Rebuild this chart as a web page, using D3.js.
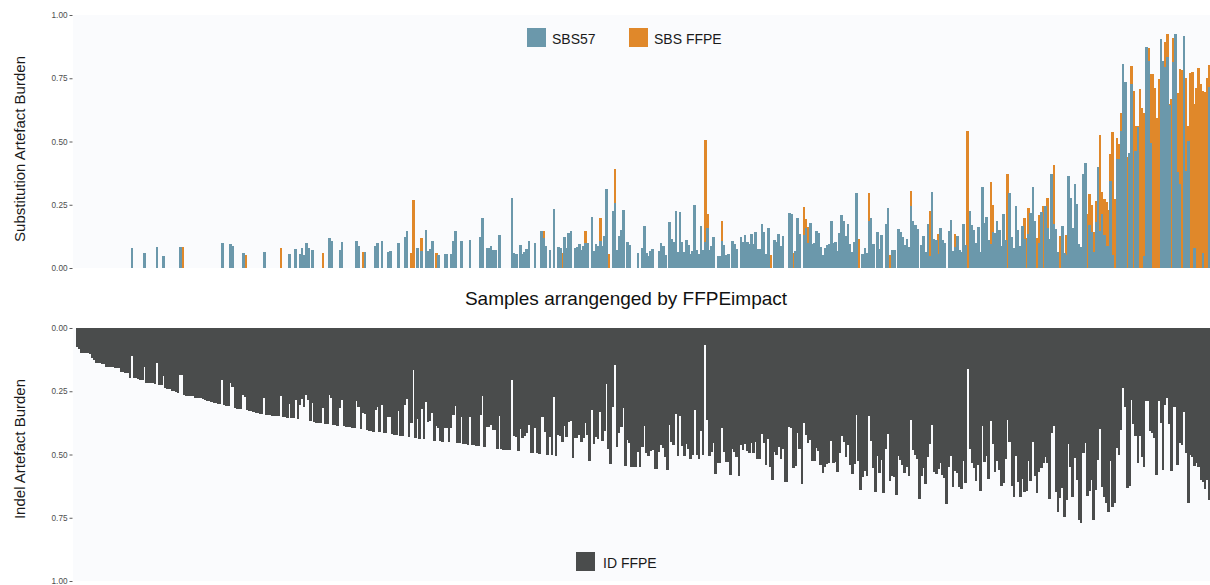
<!DOCTYPE html>
<html>
<head>
<meta charset="utf-8">
<script src="https://cdn.jsdelivr.net/npm/d3@7"></script>
<style>
  body { margin: 0; background: #fff; }
  svg { display: block; font-family: "Liberation Sans", Arial, sans-serif; }
</style>
</head>
<body>
<svg width="1210" height="585"></svg>
<script>
// one value per sample, samples ordered by FFPEimpact (left to right)
const sbs57 = [
  0,0,0,0,0,0,0,0,0,0,
  0,0,0,0,0,0,0,0,0,0,
  0,0,0,0,0,0,.078,0,0,0,
  0,0,.058,0,0,0,0,0,.082,0,
  0,.047,0,0,0,0,0,0,0,.082,
  0,0,0,0,0,0,0,0,0,0,
  0,0,0,0,0,0,0,0,0,.099,
  0,0,0,.094,.085,0,0,0,0,.059,
  0,0,0,0,0,0,0,0,0,.065,
  0,0,0,0,0,0,0,0,0,0,
  0,.055,0,0,.075,0,.055,.08,.052,.1,
  .08,0,.072,0,0,0,0,0,0,0,
  .118,.105,0,0,0,.072,.104,0,0,0,
  0,0,0,.108,.088,0,0,.065,0,0,
  0,0,.085,.1,0,.108,0,0,.065,.068,
  0,0,0,.097,0,0,.124,.148,0,0,
  0,0,.079,0,.066,0,.15,.069,.076,.107,
  0,0,.051,0,0,.055,.055,0,.055,.107,
  .146,0,0,.107,0,0,0,.11,0,0,
  0,0,.124,.198,0,.08,.08,.088,.071,.071,
  0,.13,0,0,0,0,0,.278,.058,.055,
  0,.091,.055,.065,.076,.108,0,0,.1,0,
  0,.146,.12,.088,0,.071,0,.233,0,.084,
  .08,0,.124,.08,.14,.146,0,.08,.084,.095,
  .071,.088,.097,.1,0,.2,.067,.095,.088,.107,
  .087,.126,.312,0,0,.225,.256,.071,.126,.15,
  .229,0,.103,.091,0,0,0,.058,0,.08,
  .166,.058,.047,.067,.075,0,0,.067,.097,.087,
  .051,0,.182,.115,.103,.225,.063,.221,.103,.063,
  .111,.092,.055,.069,.249,.071,.055,.166,.071,.103,
  .159,.071,.088,.124,0,.047,.047,.107,.092,.051,
  .055,0,.107,.095,.075,0,.124,.103,.13,.103,
  .095,.134,.095,.142,.075,.075,.174,.142,.055,.159,
  0,0,.111,.103,.134,.088,.126,0,0,.216,
  .213,0,.067,.198,.134,0,.13,.157,.097,.179,
  .095,.097,.148,.14,.083,.053,.08,.091,.095,.186,
  .1,.103,.067,.14,.21,.187,.126,.174,.095,.063,
  .103,.296,0,0,.055,.08,.059,.186,.198,.095,
  0,.142,.075,.13,0,.174,.237,0,.071,.071,
  0,.154,.142,.123,.091,.115,.083,.245,.186,.17,
  .154,0,.091,.126,.063,.174,.047,.3,.115,.111,
  .055,.158,.111,.099,0,.146,.19,.067,.083,.126,
  .071,.063,.174,.091,0,.225,.17,.15,.099,.162,
  .063,.32,.178,.2,.111,.095,.142,.138,.186,.15,
  .087,.213,.111,0,.296,.123,.079,.245,.15,.087,
  .166,.115,0,.134,.217,.321,.186,0,.099,.221,
  0,.245,.158,.115,.372,.174,.154,.063,0,.166,
  .059,.05,.364,.277,.158,.332,.253,.095,.083,.372,
  .415,0,.17,.142,.063,.182,.399,.146,.213,.13,
  .087,.087,.344,.05,0,.431,.431,.541,.806,.735,
  0,.455,.727,0,.462,.557,0,0,.047,.874,
  .818,.494,0,0,0,0,.905,.818,.794,.834,
  .645,0,.814,.925,.379,.332,0,.917,.383,.502,
  0,0,.079,0,0,0,.059,0,0,.715
];

const sbsFFPE = [
  0,0,0,0,0,0,0,0,0,0,
  0,0,0,0,0,0,0,0,0,0,
  0,0,0,0,0,0,0,0,0,0,
  0,0,0,0,0,0,0,0,0,0,
  0,0,0,0,0,0,0,0,0,0,
  .082,0,0,0,0,0,0,0,0,0,
  0,0,0,0,0,0,0,0,0,0,
  0,0,0,0,0,0,0,0,0,0,
  .05,0,0,0,0,0,0,0,0,0,
  0,0,0,0,0,0,0,.08,0,0,
  0,0,0,0,0,0,0,0,0,0,
  0,0,0,0,0,0,0,.06,0,0,
  0,0,0,0,0,0,0,0,0,0,
  0,0,0,0,0,0,.065,0,0,0,
  0,0,0,0,0,0,0,0,0,0,
  0,0,0,0,0,0,0,0,0,.058,
  .27,0,0,0,.119,0,0,0,0,0,
  0,.058,0,0,0,0,0,0,0,0,
  0,0,0,0,0,0,0,0,0,0,
  0,0,0,0,0,0,0,0,0,0,
  0,0,0,0,0,0,0,0,0,0,
  0,0,0,0,0,0,0,0,0,0,
  0,0,.146,0,0,0,0,0,0,0,
  0,.058,0,0,0,0,0,0,0,0,
  0,0,.146,0,0,0,0,0,0,.198,
  0,0,0,.055,0,0,.391,0,0,0,
  0,0,0,0,0,0,0,0,0,0,
  0,0,0,0,0,0,0,0,0,0,
  0,0,0,0,0,0,0,0,0,0,
  0,0,0,0,0,0,0,0,0,.506,
  .213,0,0,0,0,0,0,.186,0,0,
  0,0,0,0,0,0,0,0,0,0,
  0,0,0,0,0,0,0,0,0,0,
  .051,0,0,0,0,0,0,0,0,0,
  0,.058,0,0,0,0,.241,.195,.163,0,
  0,0,0,0,0,0,0,0,0,0,
  0,0,0,0,0,0,0,0,0,0,
  0,0,.115,0,0,0,0,.296,0,0,
  0,0,0,0,0,0,0,.051,0,0,
  0,0,0,0,0,0,0,.304,0,0,
  0,0,0,0,0,0,.225,0,0,0,
  .134,0,0,0,0,0,0,0,.134,0,
  0,0,0,0,.541,0,0,0,0,0,
  0,0,0,0,0,.34,.249,0,0,0,
  0,0,0,.372,0,0,0,0,0,0,
  0,.198,.119,.237,0,0,0,.119,.209,0,
  .245,0,.277,0,0,.407,0,0,.126,0,
  0,.13,0,0,0,0,0,0,0,0,
  0,.213,.292,.249,.142,.265,0,.526,.3,.273,
  .261,.229,.45,.538,.273,.514,.49,.613,0,0,
  .439,0,.798,.7,.561,.561,.708,.632,.613,0,
  .87,.767,.767,.711,.593,.747,0,0,.893,.925,
  .648,.668,.909,0,.692,.787,.783,0,.751,.561,
  .771,.775,.648,.711,.79,.727,.7,.696,.751,.802
];

const idFFPE = [
  .074,.083,.097,.097,.1,.1,.103,.12,.128,.137,
  .14,.14,.142,.143,.153,.153,.153,.155,.158,.158,
  .16,.175,.175,.176,.178,.198,.11,.198,.198,.2,
  .205,.205,.153,.216,.216,.217,.218,.222,.14,.224,
  .226,.19,.238,.24,.242,.25,.25,.252,.255,.184,
  .184,.266,.267,.268,.268,.27,.275,.275,.278,.278,
  .28,.283,.287,.29,.292,.295,.298,.3,.302,.205,
  .306,.308,.31,.218,.232,.318,.319,.32,.322,.264,
  .274,.325,.327,.33,.332,.334,.336,.338,.34,.277,
  .344,.345,.345,.346,.347,.348,.349,.27,.35,.352,
  .354,.3,.356,.357,.283,.36,.306,.282,.311,.264,
  .286,.367,.296,.37,.374,.375,.376,.317,.378,.38,
  .264,.278,.384,.385,.386,.315,.284,.389,.39,.39,
  .392,.394,.396,.29,.312,.401,.337,.338,.405,.406,
  .408,.41,.326,.312,.413,.306,.415,.416,.352,.35,
  .42,.421,.423,.327,.426,.427,.304,.282,.432,.375,
  .165,.436,.358,.438,.32,.44,.291,.373,.367,.337,
  .445,.388,.396,.448,.449,.395,.395,.451,.397,.345,
  .307,.454,.455,.35,.458,.46,.461,.352,.463,.464,
  .465,.466,.343,.27,.47,.391,.392,.385,.404,.405,
  .478,.349,.48,.481,.482,.483,.484,.207,.428,.432,
  .488,.398,.435,.426,.416,.385,.494,.495,.396,.496,
  .497,.352,.353,.412,.501,.431,.503,.271,.505,.422,
  .428,.451,.386,.431,.372,.368,.515,.436,.433,.423,
  .449,.433,.376,.423,.524,.325,.459,.432,.44,.332,
  .445,.407,.222,.48,.536,.312,.147,.469,.415,.393,
  .316,.546,.443,.456,.548,.548,.549,.491,.55,.471,
  .386,.495,.507,.488,.481,.557,.558,.491,.462,.473,
  .511,.563,.382,.45,.463,.341,.504,.346,.465,.506,
  .459,.478,.516,.502,.323,.501,.518,.407,.503,.069,
  .362,.505,.489,.453,.578,.532,.533,.394,.489,.531,
  .528,.583,.477,.489,.51,.586,.462,.484,.457,.485,
  .493,.455,.495,.449,.517,.518,.42,.454,.542,.439,
  .549,.601,.491,.5,.47,.517,.48,.607,.608,.393,
  .397,.553,.545,.415,.48,.615,.375,.422,.455,.441,
  .527,.526,.476,.485,.543,.574,.548,.538,.535,.446,
  .534,.531,.568,.495,.426,.45,.511,.464,.543,.576,
  .537,.345,.527,.642,.588,.564,.586,.349,.448,.552,
  .648,.507,.575,.521,.652,.479,.417,.604,.585,.587,
  .66,.507,.52,.54,.574,.551,.584,.364,.483,.5,
  .518,.674,.585,.552,.617,.508,.459,.385,.571,.577,
  .556,.533,.581,.594,.694,.549,.506,.63,.564,.573,
  .629,.638,.527,.611,.162,.479,.534,.555,.606,.543,
  .643,.386,.529,.507,.597,.368,.46,.571,.524,.56,
  .623,.614,.519,.364,.449,.624,.667,.506,.607,.669,
  .597,.65,.643,.524,.605,.452,.585,.653,.568,.552,
  .532,.511,.535,.676,.416,.387,.647,.729,.673,.634,
  .746,.68,.458,.551,.667,.515,.601,.759,.772,.495,
  .453,.664,.644,.601,.759,.64,.522,.398,.627,.667,
  .693,.726,.524,.706,.693,.473,.502,.403,.238,.311,
  .634,.624,.285,.379,.427,.535,.426,.509,.548,.289,
  .289,.407,.414,.436,.581,.289,.377,.561,.304,.277,
  .379,.564,.311,.311,.541,.453,.462,.331,.495,.693,
  .502,.509,.545,.535,.548,.599,.607,.638,.601,.68
];

const yTicks = [0, 0.25, 0.5, 0.75, 1];
const sbsKeys = ['SBS57', 'SBS FFPE'];
const idKeys = ['ID FFPE'];

const colBlue = '#6b98ab';
const colOrange = '#e0882a';
const colDark = '#4a4c4c';
const panelBg = '#fafbfd';

const svg = d3.select('svg');
const left = 73, right = 1210;

const x = d3.scaleBand()
    .domain(d3.range(idFFPE.length))
    .range([76, 1210]);
// bars slightly overlap so neighbouring bars read as one solid block
const barW = x.bandwidth() + 0.5;

const yTop = d3.scaleLinear().domain([0, 1]).range([268, 15]);
const yBot = d3.scaleLinear().domain([0, 1]).range([328, 581]);

// panel backgrounds
svg.append('rect')
    .attr('x', left).attr('y', 15)
    .attr('width', right - left).attr('height', 253)
    .attr('fill', panelBg);
svg.append('rect')
    .attr('x', left).attr('y', 328)
    .attr('width', right - left).attr('height', 253)
    .attr('fill', panelBg);

// substitution panel: SBS FFPE behind, SBS57 in front
const topG = svg.append('g').attr('shape-rendering', 'crispEdges');
topG.selectAll('rect.ffpe')
    .data(sbsFFPE)
    .enter()
    .append('rect')
    .classed('ffpe', true)
    .attr('x', (d, i) => x(i))
    .attr('width', barW)
    .attr('y', d => yTop(d))
    .attr('height', d => yTop(0) - yTop(d))
    .attr('fill', colOrange);

topG.selectAll('rect.sbs57')
    .data(sbs57)
    .enter()
    .append('rect')
    .classed('sbs57', true)
    .attr('x', (d, i) => x(i))
    .attr('width', barW)
    .attr('y', d => yTop(d))
    .attr('height', d => yTop(0) - yTop(d))
    .attr('fill', colBlue);

// indel panel, bars hang down from 0
svg.append('g')
    .attr('shape-rendering', 'crispEdges')
    .selectAll('rect')
    .data(idFFPE)
    .enter()
    .append('rect')
    .attr('x', (d, i) => x(i))
    .attr('width', barW)
    .attr('y', yBot(0))
    .attr('height', d => yBot(d) - yBot(0))
    .attr('fill', colDark);

// axes
function styleAxis(g) {
    g.select('.domain').remove();
    g.selectAll('.tick line').attr('stroke', '#333').attr('stroke-width', 0.8);
    g.selectAll('.tick text')
        .attr('fill', '#4d4d4d')
        .style('font-size', '8.2px')
        .style('font-family', '"Liberation Sans", Arial, sans-serif');
}

svg.append('g')
    .attr('transform', `translate(${left - 0.5},0)`)
    .call(d3.axisLeft(yTop).tickValues(yTicks).tickFormat(d3.format('.2f')).tickSize(3).tickPadding(2))
    .call(styleAxis);

svg.append('g')
    .attr('transform', `translate(${left - 0.5},0)`)
    .call(d3.axisLeft(yBot).tickValues(yTicks).tickFormat(d3.format('.2f')).tickSize(3).tickPadding(2))
    .call(styleAxis);

// axis titles
svg.append('text')
    .attr('transform', 'translate(20,149) rotate(-90)')
    .attr('text-anchor', 'middle')
    .attr('dy', '0.35em')
    .style('font-size', '15px')
    .attr('fill', '#1a1a1a')
    .text('Substitution Artefact Burden');

svg.append('text')
    .attr('transform', 'translate(20,449) rotate(-90)')
    .attr('text-anchor', 'middle')
    .attr('dy', '0.35em')
    .style('font-size', '15px')
    .attr('fill', '#1a1a1a')
    .text('Indel Artefact Burden');

svg.append('text')
    .attr('x', 626)
    .attr('y', 305)
    .attr('text-anchor', 'middle')
    .style('font-size', '19px')
    .attr('fill', '#111')
    .text('Samples arrangenged by FFPEimpact');

// legends
const topLegend = svg.append('g');
const legendX = [527, 629];
const legendCol = [colBlue, colOrange];
sbsKeys.forEach((k, i) => {
    topLegend.append('rect')
        .attr('x', legendX[i]).attr('y', 28)
        .attr('width', 19).attr('height', 19)
        .attr('fill', legendCol[i]);
    topLegend.append('text')
        .attr('x', legendX[i] + 25).attr('y', 44)
        .style('font-size', '14px')
        .attr('fill', '#1a1a1a')
        .text(k);
});

const botLegend = svg.append('g');
idKeys.forEach(k => {
    botLegend.append('rect')
        .attr('x', 576).attr('y', 552)
        .attr('width', 19).attr('height', 19)
        .attr('fill', colDark);
    botLegend.append('text')
        .attr('x', 603).attr('y', 568)
        .style('font-size', '14px')
        .attr('fill', '#1a1a1a')
        .text(k);
});
</script>
</body>
</html>
